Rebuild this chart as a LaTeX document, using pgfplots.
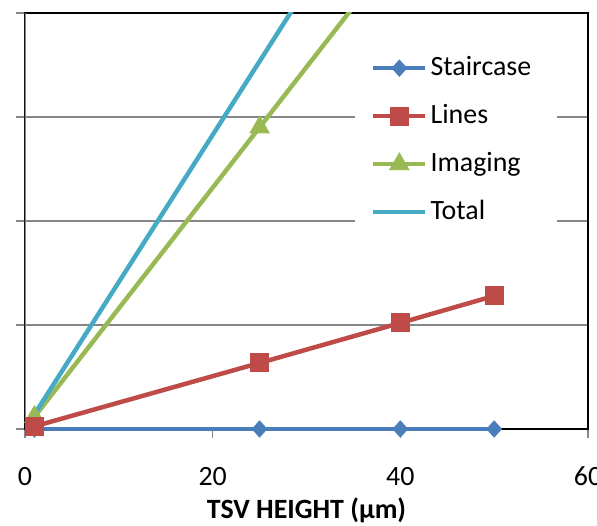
\documentclass[border=0pt]{standalone}
\usepackage{fontspec}
\setmainfont{Carlito}
\usepackage{pgfplots}
\pgfplotsset{compat=1.18}
\definecolor{cStair}{HTML}{4A7EBB}
\definecolor{cLines}{HTML}{BE4B48}
\definecolor{cImg}{HTML}{98B954}
\definecolor{cTot}{HTML}{46AAC5}
\definecolor{gridgray}{HTML}{868686}
\pgfplotsset{
  common/.style={width=563bp, height=416bp, scale only axis,
    xmin=0, xmax=60, ymin=0, ymax=4},
  mylegimg/.style={legend image code/.code={%
    \draw[mark repeat=2, mark phase=2] plot coordinates {(0bp,0bp) (26bp,0bp) (52bp,0bp)};}},
}
\begin{document}
\begin{tikzpicture}
\begin{axis}[common,
  xtick={0,20,40,60}, ytick={0,1,2,3,4}, yticklabels={},
  ymajorgrids, grid style={gridgray, line width=1.5bp},
  tick align=outside, major tick length=9bp, tick pos=left,
  tick style={gridgray, line width=1.5bp},
  axis line style={black, line width=1.5bp},
  /pgf/number format/assume math mode=true,
  ticklabel style={font=\fontsize{28}{34}\selectfont},
  xticklabel style={anchor=base, yshift=-47bp},
  xlabel={\textbf{TSV HEIGHT (μm)}},
  xlabel style={font=\fontsize{28}{34}\selectfont\bfseries,
    at={(axis description cs:0.5,0)}, anchor=base, yshift=-89bp},
]
\addplot[cImg, line width=4.5bp, mark=triangle*, mark size=11bp,
  mark options={line width=1bp, solid}]
  coordinates {(1,0.116) (25,2.90) (40,4.64) (50,5.80)};
\addplot[cTot, line width=4.5bp]
  coordinates {(1,0.14) (25,3.535) (40,5.66) (50,7.08)};
\draw[gridgray, line width=1.5bp] (rel axis cs:0,0) -- (rel axis cs:0,1);
\coordinate (SW) at (rel axis cs:0,0);
\coordinate (NE) at (rel axis cs:1,1);
\end{axis}
\begin{axis}[common, hide axis, clip=false, mylegimg,
  legend cell align=left,
  legend style={at={(0.586,0.928)}, anchor=north west, draw=none, fill=white,
    inner xsep=16bp, inner ysep=12bp, column sep=3bp, row sep=22bp,
    font=\fontsize{28}{34}\selectfont,
    nodes={inner sep=0pt, text height=20bp, text depth=6bp}},
]
\addplot[cStair, line width=4.5bp, mark=diamond*, mark size=8bp,
  mark options={line width=1bp, solid, xscale=1.2}]
  coordinates {(1,0) (25,0) (40,0) (50,0)};
\addplot[cLines, line width=4.5bp, mark=square*, mark size=9bp,
  mark options={line width=1bp, solid}]
  coordinates {(1,0.0255) (25,0.635) (40,1.02) (50,1.28)};
\addlegendimage{cImg, line width=4.5bp, mark=triangle*, mark size=11bp,
  mark options={line width=1bp, solid}}
\addlegendimage{cTot, line width=4.5bp}
\legend{Staircase\rule{10bp}{0pt}, Lines, Imaging, Total}
\end{axis}
\pgfresetboundingbox
\path[use as bounding box] ([shift={(-25bp,-97bp)}]SW) rectangle ([shift={(9bp,13bp)}]NE);
\end{tikzpicture}
\end{document}
